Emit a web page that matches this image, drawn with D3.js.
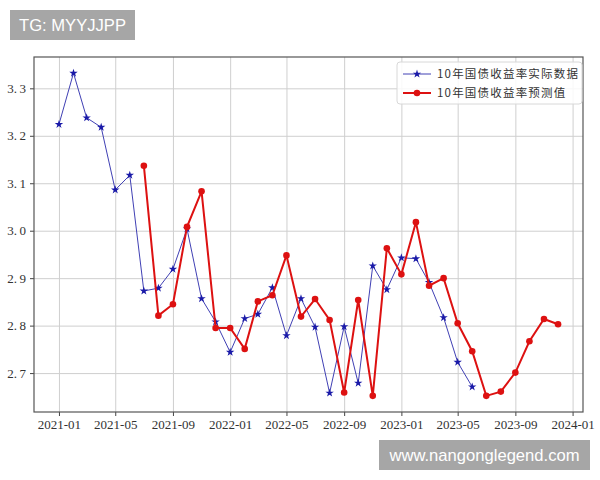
<!DOCTYPE html>
<html>
<head>
<meta charset="utf-8" />
<title>10年国债收益率</title>
<script src="https://d3js.org/d3.v7.min.js"></script>
<style>
  body { margin: 0; background: #fff; }
  svg { display: block; }
</style>
</head>
<body>
<svg></svg>
<script>
// actual yields, monthly 2021-01 .. 2023-06
const actualMonths = d3.timeMonths(new Date(2021, 0, 1), new Date(2023, 6, 1));
const actualValues = [3.224, 3.332, 3.238, 3.218, 3.086, 3.117, 2.873, 2.879, 2.919, 3.004,
                      2.857, 2.808, 2.744, 2.815, 2.824, 2.880, 2.779, 2.857, 2.797, 2.658,
                      2.798, 2.679, 2.926, 2.876, 2.943, 2.941, 2.891, 2.817, 2.723, 2.671];
// predicted yields, monthly 2021-07 .. 2023-12
const predMonths = d3.timeMonths(new Date(2021, 6, 1), new Date(2024, 0, 1));
const predValues = [3.137, 2.821, 2.845, 3.008, 3.083, 2.795, 2.795, 2.751, 2.851, 2.864,
                    2.948, 2.819, 2.856, 2.812, 2.659, 2.854, 2.652, 2.963, 2.908, 3.018,
                    2.884, 2.900, 2.805, 2.746, 2.652, 2.661, 2.701, 2.767, 2.814, 2.803];
const yTicks = [2.7, 2.8, 2.9, 3.0, 3.1, 3.2, 3.3];
const xTicks = d3.timeMonths(new Date(2021, 0, 1), new Date(2024, 1, 1), 4);
const seriesNames = ['10年国债收益率实际数据', '10年国债收益率预测值'];

const W = 600, H = 480;
const plotL = 34, plotR = 583, plotT = 57, plotB = 412;

const svg = d3.select('svg').attr('width', W).attr('height', H);

// matplotlib-like 5% margins
const allDates = actualMonths.concat(predMonths);
const dMin = d3.min(allDates), dMax = d3.max(allDates);
const pad = (dMax - dMin) * 0.05;
const xScale = d3.scaleTime()
  .domain([new Date(+dMin - pad), new Date(+dMax + pad)])
  .range([plotL, plotR]);

const allVals = actualValues.concat(predValues);
const vMin = d3.min(allVals), vMax = d3.max(allVals);
const vPad = (vMax - vMin) * 0.05;
const yScale = d3.scaleLinear()
  .domain([vMin - vPad, vMax + vPad])
  .range([plotB, plotT]);

const tickFont = '"Liberation Serif", "DejaVu Serif", serif';

// grid
svg.append('g')
  .attr('transform', `translate(0,${plotB})`)
  .call(d3.axisBottom(xScale).tickValues(xTicks).tickSize(-(plotB - plotT)).tickFormat(''))
  .call(g => g.select('.domain').remove())
  .call(g => g.selectAll('line').attr('stroke', '#cfcfcf').attr('stroke-width', 1));
svg.append('g')
  .attr('transform', `translate(${plotL},0)`)
  .call(d3.axisLeft(yScale).tickValues(yTicks).tickSize(-(plotR - plotL)).tickFormat(''))
  .call(g => g.select('.domain').remove())
  .call(g => g.selectAll('line').attr('stroke', '#cfcfcf').attr('stroke-width', 1));

// axes
svg.append('g')
  .attr('transform', `translate(0,${plotB})`)
  .call(d3.axisBottom(xScale).tickValues(xTicks).tickSize(4).tickPadding(4)
        .tickFormat(d3.timeFormat('%Y-%m')))
  .call(g => g.select('.domain').remove())
  .call(g => g.selectAll('line').attr('stroke', '#444'))
  .call(g => g.selectAll('text').attr('fill', '#333').style('font-family', tickFont).style('font-size', '13px'));
svg.append('g')
  .attr('transform', `translate(${plotL},0)`)
  .call(d3.axisLeft(yScale).tickValues(yTicks).tickSize(4).tickPadding(4)
        .tickFormat(d => d3.format('.1f')(d).replace('.', '.\u2009')))
  .call(g => g.select('.domain').remove())
  .call(g => g.selectAll('line').attr('stroke', '#444'))
  .call(g => g.selectAll('text').attr('fill', '#333').style('font-family', tickFont).style('font-size', '13px'));

svg.append('rect')
  .attr('x', plotL).attr('y', plotT)
  .attr('width', plotR - plotL).attr('height', plotB - plotT)
  .attr('fill', 'none').attr('stroke', '#555').attr('stroke-width', 1.2);

const line = d3.line().x(d => xScale(d[0])).y(d => yScale(d[1]));
const actual = d3.zip(actualMonths, actualValues);
const pred = d3.zip(predMonths, predValues);

const blue = '#4040b4', red = '#dd1111';
const star = d3.symbol().type(d3.symbolStar).size(22);

svg.append('path').datum(actual)
  .attr('d', line).attr('fill', 'none').attr('stroke', blue).attr('stroke-width', 1);
svg.append('g').selectAll('path').data(actual).join('path')
  .attr('d', star).attr('fill', '#1a1aa8')
  .attr('transform', d => `translate(${xScale(d[0])},${yScale(d[1])})`);

svg.append('path').datum(pred)
  .attr('d', line).attr('fill', 'none').attr('stroke', red).attr('stroke-width', 2);
svg.append('g').selectAll('circle').data(pred).join('circle')
  .attr('cx', d => xScale(d[0])).attr('cy', d => yScale(d[1]))
  .attr('r', 3.3).attr('fill', red);

// legend
const lg = svg.append('g').attr('transform', 'translate(397,62)');
lg.append('rect').attr('width', 185).attr('height', 42).attr('rx', 3)
  .attr('fill', 'rgba(255,255,255,0.85)').attr('stroke', '#d8d8d8');
seriesNames.forEach((name, i) => {
  const y = 12 + i * 19;
  const c = i === 0 ? blue : red;
  lg.append('line').attr('x1', 6).attr('x2', 34).attr('y1', y).attr('y2', y)
    .attr('stroke', c).attr('stroke-width', i === 0 ? 1 : 2);
  if (i === 0) {
    lg.append('path').attr('d', star).attr('fill', '#1a1aa8').attr('transform', `translate(20,${y})`);
  } else {
    lg.append('circle').attr('cx', 20).attr('cy', y).attr('r', 3.3).attr('fill', red);
  }
  lg.append('text').attr('x', 40).attr('y', y + 4)
    .style('font-family', '"Noto Sans CJK SC", sans-serif').style('font-size', '11.5px')
    .style('letter-spacing', '1.2px')
    .attr('fill', '#333').text(name);
});

// watermarks
const marks = [
  { x: 10, y: 10, w: 125, h: 30, t: 'TG: MYYJJPP' },
  { x: 379, y: 440, w: 211, h: 30, t: 'www.nangonglegend.com' }
];
marks.forEach(m => {
  svg.append('rect').attr('x', m.x).attr('y', m.y).attr('width', m.w).attr('height', m.h)
    .attr('fill', '#a6a6a6');
  svg.append('text').attr('x', m.x + m.w / 2).attr('y', m.y + m.h / 2 + 6)
    .attr('text-anchor', 'middle').attr('fill', '#fff')
    .style('font-family', '"Liberation Sans", Arial, sans-serif').style('font-size', '16.6px')
    .text(m.t);
});
</script>
</body>
</html>
